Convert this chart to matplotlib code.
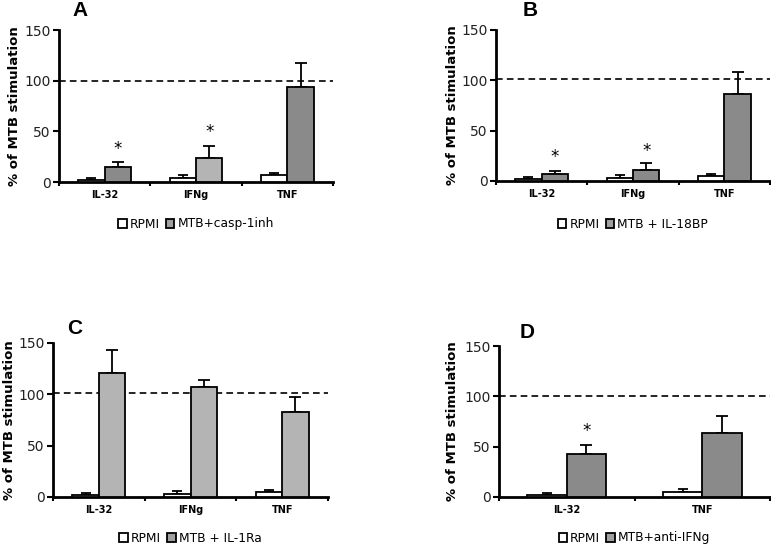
import matplotlib.pyplot as plt
import numpy as np

# panel A
cats_a = ['IL-32', 'IFNg', 'TNF']
rpmi_a = [1.5, 4, 7]
rpmi_err_a = [2, 3, 2]
mtb_a = [15, 24, 94]
mtb_err_a = [5, 12, 23]
star_a = [33, 49, None]

# panel B
cats_b = ['IL-32', 'IFNg', 'TNF']
rpmi_b = [1.5, 3, 5]
rpmi_err_b = [2, 3, 2]
mtb_b = [7, 11, 86]
mtb_err_b = [3, 7, 22]
star_b = [24, 30, None]

# panel C
cats_c = ['IL-32', 'IFNg', 'TNF']
rpmi_c = [2, 3, 5]
rpmi_err_c = [2, 3, 2]
mtb_c = [121, 107, 83]
mtb_err_c = [22, 7, 14]
star_c = [None, None, None]

# panel D
cats_d = ['IL-32', 'TNF']
rpmi_d = [2, 5]
rpmi_err_d = [2, 3]
mtb_d = [43, 64]
mtb_err_d = [9, 16]
star_d = [66, None]

DARK = '#8a8a8a'
LIGHT = '#b4b4b4'

panels = [
    # letter, cats, rpmi, rpmi_err, mtb, mtb_err, stars, colors, legend label,
    # axes rect (px), ref line, letter pos, legend y, ylabel x
    ('A', cats_a, rpmi_a, rpmi_err_a, mtb_a, mtb_err_a, star_a, [DARK, LIGHT, DARK], 'MTB+casp-1inh',
     [59, 30, 333, 182], 100, (80, 10), 224, 14),
    ('B', cats_b, rpmi_b, rpmi_err_b, mtb_b, mtb_err_b, star_b, [DARK, DARK, DARK], 'MTB + IL-18BP',
     [496, 30, 770, 181], 101, (530, 10), 224, 452),
    ('C', cats_c, rpmi_c, rpmi_err_c, mtb_c, mtb_err_c, star_c, [LIGHT, LIGHT, LIGHT], 'MTB + IL-1Ra',
     [53, 343, 328, 497], 101, (75, 329), 538, 10),
    ('D', cats_d, rpmi_d, rpmi_err_d, mtb_d, mtb_err_d, star_d, [DARK, DARK], 'MTB+anti-IFNg',
     [499, 346, 770, 497], 100, (527, 332), 538, 453),
]

W, H = 771, 545
fig = plt.figure(figsize=(W / 100, H / 100), dpi=100)

for (letter, cats, rpmi, rpmi_err, mtb, mtb_err, stars, colors, label,
     rect, ref, lpos, leg_y, ylab_x) in panels:
    x0, y0, x1, y1 = rect
    ax = fig.add_axes([x0 / W, 1 - y1 / H, (x1 - x0) / W, (y1 - y0) / H])
    n = len(cats)
    x = np.arange(n)
    bw = 0.29

    ax.bar(x - bw / 2, rpmi, bw, color='white', edgecolor='black', linewidth=1.3,
           zorder=3, label='RPMI')
    ax.bar(x + bw / 2, mtb, bw, color=colors, edgecolor='black', linewidth=1.3,
           zorder=3, label=label)
    ax.errorbar(x - bw / 2, rpmi, yerr=[np.zeros(n), rpmi_err], fmt='none',
                ecolor='black', elinewidth=1.3, capsize=3.5, capthick=1.3, zorder=2)
    ax.errorbar(x + bw / 2, mtb, yerr=[np.zeros(n), mtb_err], fmt='none',
                ecolor='black', elinewidth=1.3, capsize=4, capthick=1.3, zorder=2)

    for i, s in enumerate(stars):
        if s is not None:
            ax.text(x[i] + bw / 2, s, '*', ha='center', va='center', fontsize=12)

    ax.axhline(ref, color='black', linestyle=(0, (4, 2.5)), linewidth=1.2, zorder=1)

    ax.set_xlim(-0.5, n - 0.5)
    ax.set_ylim(0, 150)
    ax.set_yticks([0, 50, 100, 150])
    ax.tick_params(axis='y', labelsize=10, length=4, width=1.5, pad=2, labelcolor='#222222')
    ax.set_xticks(x)
    ax.set_xticklabels(cats, fontsize=7, fontweight='bold')
    ax.tick_params(axis='x', length=0, pad=6)
    ax.set_xticks(np.arange(n + 1) - 0.5, minor=True)
    ax.tick_params(axis='x', which='minor', length=3, width=1.5)

    for side in ['top', 'right']:
        ax.spines[side].set_visible(False)
    for side in ['left', 'bottom']:
        ax.spines[side].set_linewidth(2)

    ax.set_ylabel('% of MTB stimulation', fontsize=9.5, fontweight='bold')
    ax.yaxis.set_label_coords((ylab_x - x0) / (x1 - x0), 0.5)
    ax.yaxis.label.set_va('center')

    fig.text(lpos[0] / W, 1 - lpos[1] / H, letter, fontsize=15, fontweight='bold',
             family='Liberation Sans', ha='center', va='center')

    handles, labels = ax.get_legend_handles_labels()
    leg = fig.legend(handles, labels, loc='center', ncol=2, frameon=False,
                     bbox_to_anchor=((x0 + x1) / 2 / W, 1 - leg_y / H),
                     fontsize=8.8, handlelength=0.7, handleheight=0.7,
                     handletextpad=0.25, columnspacing=0.5, borderpad=0)
    leg.legend_handles[1].set_facecolor('#a0a0a0')

fig.savefig('out.png', dpi=100)
